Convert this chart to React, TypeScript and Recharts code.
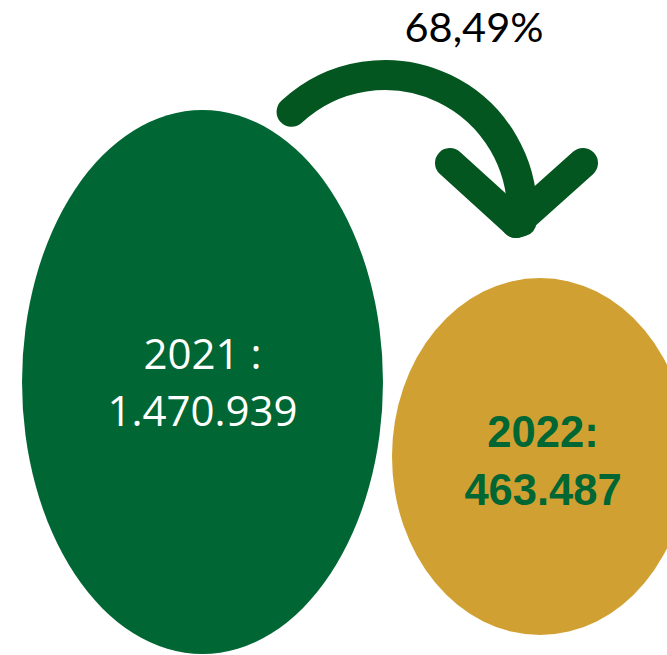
import { Scatter, ScatterChart, XAxis, YAxis } from "recharts"

// values
const years = ["2021", "2022"]
const totals = [1470939, 463487]
const yearSeparators = [" :", ":"]
const changeLabels = ["68,49%"]

// layout of the two bubbles (in chart units, 1 unit = 1px)
const BUBBLES = [
  { cx: 202.5, cy: 382, rx: 180.5, ry: 272, fill: "#006633", text: "#FFFFFF", weight: 400, size: 42, family: "'Open Sans', sans-serif", line1: 369, line2: 426, dx: 0 },
  { cx: 540, cy: 456.5, rx: 148, ry: 178.5, fill: "#D1A032", text: "#006633", weight: 700, size: 43.5, family: "'Liberation Sans', Arial, sans-serif", line1: 447, line2: 505, dx: 3 },
]
const ARROW = { cx: 385, cy: 212, r: 137, color: "#03561F" }

const W = 667
const H = 655

function formatThousands(v: number) {
  return String(v).replace(/\B(?=(\d{3})+(?!\d))/g, ".")
}

const bubbleData = years.map((year, i) => ({
  x: BUBBLES[i].cx,
  y: BUBBLES[i].cy,
  idx: i,
  title: year + yearSeparators[i],
  value: formatThousands(totals[i]),
}))

const arrowData = changeLabels.map((label) => ({ x: ARROW.cx, y: ARROW.cy, label }))

function Bubble(props: any) {
  const { cx, cy, payload } = props
  const b = BUBBLES[payload.idx]
  return (
    <g>
      <ellipse cx={cx} cy={cy} rx={b.rx} ry={b.ry} fill={b.fill} />
      <text x={cx + b.dx} y={b.line1} textAnchor="middle" fill={b.text}
        fontFamily={b.family} fontWeight={b.weight} fontSize={b.size}>
        {payload.title}
      </text>
      <text x={cx + b.dx} y={b.line2} textAnchor="middle" fill={b.text}
        fontFamily={b.family} fontWeight={b.weight} fontSize={b.size}>
        {payload.value}
      </text>
    </g>
  )
}

function ChangeArrow(props: any) {
  const { cx, cy, payload } = props
  const r = ARROW.r
  // arc from upper-left, over the top, down to the right side
  const a0 = (133 * Math.PI) / 180
  const a1 = (-4 * Math.PI) / 180
  const sx = cx + r * Math.cos(a0)
  const sy = cy - r * Math.sin(a0)
  const ex = cx + r * Math.cos(a1)
  const ey = cy - r * Math.sin(a1)
  const vx = cx + 131
  const vy = cy + 11
  return (
    <g>
      <path
        d={`M ${sx} ${sy} A ${r} ${r} 0 0 1 ${ex} ${ey} L ${vx} ${vy}`}
        fill="none" stroke={ARROW.color} strokeWidth={30} strokeLinecap="round" strokeLinejoin="round"
      />
      <path
        d={`M ${cx + 65} ${cy - 49} L ${vx} ${vy} L ${cx + 198} ${cy - 49}`}
        fill="none" stroke={ARROW.color} strokeWidth={30} strokeLinecap="round" strokeLinejoin="round"
      />
      <text x={cx + 89} y={cy - 170} textAnchor="middle" fill="#000000"
        fontFamily="Lato, sans-serif" fontSize={41.5}>
        {payload.label}
      </text>
    </g>
  )
}

export default function App() {
  return (
    <div style={{ position: "absolute", left: 0, top: 0, width: W, height: H, background: "#ffffff" }}>
      <ScatterChart width={W} height={H} margin={{ top: 0, right: 0, bottom: 0, left: 0 }}>
        <XAxis type="number" dataKey="x" domain={[0, W]} hide />
        <YAxis type="number" dataKey="y" domain={[0, H]} reversed hide />
        <Scatter data={bubbleData} shape={(p: any) => <Bubble {...p} />} isAnimationActive={false} />
        <Scatter data={arrowData} shape={(p: any) => <ChangeArrow {...p} />} isAnimationActive={false} />
      </ScatterChart>
    </div>
  )
}
